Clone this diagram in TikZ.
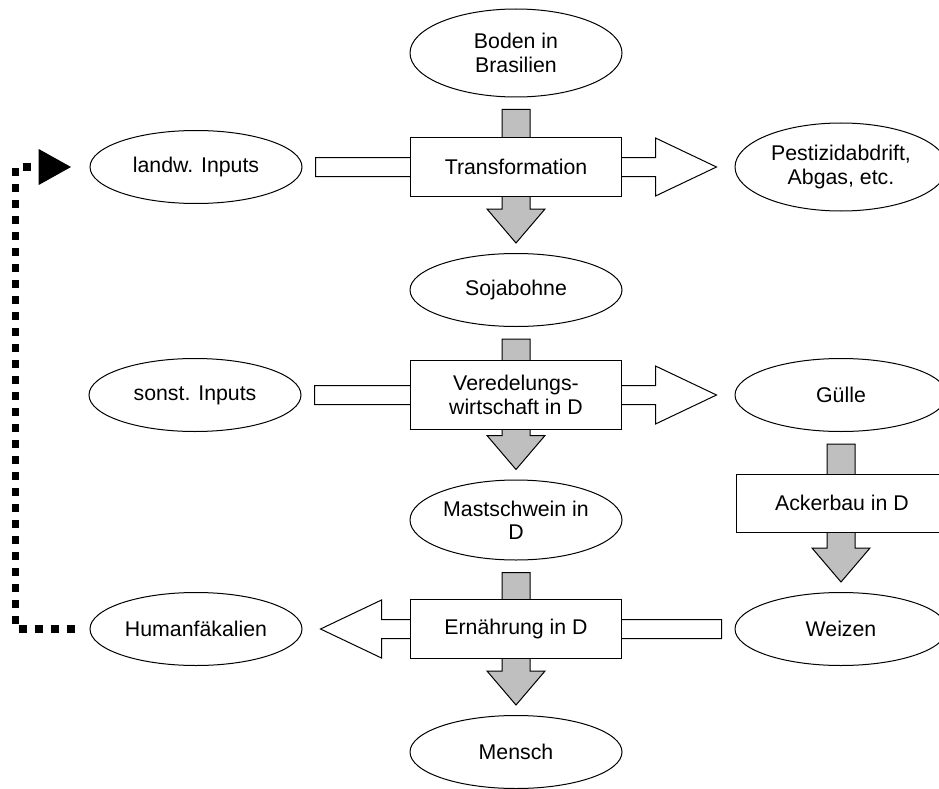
\documentclass[tikz,border=0pt]{standalone}
\usepackage{fontspec}
\setmainfont{Liberation Sans}
\usepackage{tikz}
\usetikzlibrary{arrows.meta,calc,shapes.geometric}
\tikzset{
  oval/.style={ellipse, draw, fill=white, line width=1pt, minimum width=212pt, minimum height=73pt, inner sep=0pt, align=center, font=\fontsize{21.3}{23.3}\selectfont},
  stage/.style={rectangle, draw, fill=white, line width=1pt, minimum width=211pt, minimum height=59pt, inner sep=0pt, align=center, font=\fontsize{21.3}{23.3}\selectfont},
  gflw/.style={draw, fill=gray!50, line width=1pt, line join=miter},
  wflw/.style={draw, fill=white, line width=1pt, line join=miter},
  back/.style={line width=7.5pt, dash pattern=on 8pt off 8pt, -{Triangle[length=33pt,width=34pt]}, shorten <=15pt, shorten >=18pt},
}

\begin{document}
\begin{tikzpicture}[x=1pt,y=-1pt]
  \useasboundingbox (0,0) rectangle (939,789);
  \clip (0,0) rectangle (939,789);
  % ovals
  \node[oval, minimum height=88pt] (boden) at (516,53) {Boden in\\Brasilien};
  \node[oval] (landw) at (196,167) {landw. Inputs};
  \node[oval, minimum height=88pt] (pest) at (841,167) {Pestizidabdrift,\\Abgas, etc.};
  \node[oval] (soja) at (516,290) {Sojabohne};
  \node[oval] (sonst) at (195,395) {sonst. Inputs};
  \node[oval] (guelle) at (841,395) {Gülle};
  \node[oval, minimum height=80pt] (mast) at (516,520) {Mastschwein in\\D};
  \node[oval] (hum) at (196,629) {Humanfäkalien};
  \node[oval] (weizen) at (841,629) {Weizen};
  \node[oval] (mensch) at (516,752) {Mensch};
  % grey flows
  \foreach \a/\b in {boden/soja, soja/mast, mast/mensch, guelle/weizen}
    \draw[gflw] ($(\a.south)+(-14,12)$) -- ($(\a.south)+(14,12)$) -- ($(\b.north)+(14,-44)$) -- ($(\b.north)+(29,-44)$)
      -- ($(\b.north)+(0,-10)$) -- ($(\b.north)+(-29,-44)$) -- ($(\b.north)+(-14,-44)$) -- cycle;
  % white flows
  \foreach \a/\b/\d in {landw.east/pest.west/1, sonst.east/guelle.west/1, weizen.west/hum.east/-1}
    \draw[wflw] ($(\a)+\d*(13,-9.5)$) -- ($(\b)+\d*(-79,-9.5)$) -- ($(\b)+\d*(-79,-29)$) -- ($(\b)+\d*(-18,0)$)
      -- ($(\b)+\d*(-79,29)$) -- ($(\b)+\d*(-79,9.5)$) -- ($(\a)+\d*(13,9.5)$) -- cycle;
  % boxes
  \node[stage] (trans) at (516,167) {Transformation};
  \node[stage, minimum height=69pt] (vered) at (516,395) {Veredelungs-\\wirtschaft in D};
  \node[stage, minimum height=58pt] (acker) at (842,503) {Ackerbau in D};
  \node[stage] (ern) at (516,629) {Ernährung in D};
  % recycling
  \draw[back] (hum.west) -- ++(-74,0) |- (landw.west);
\end{tikzpicture}
\end{document}
